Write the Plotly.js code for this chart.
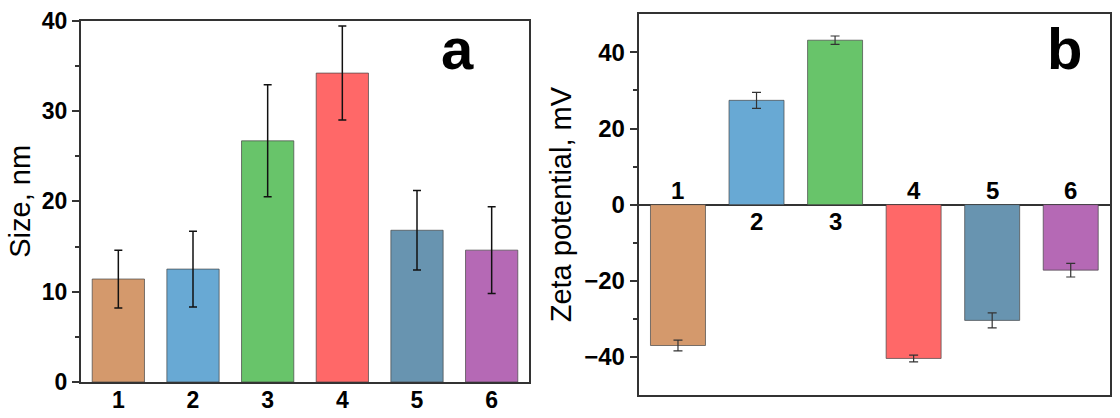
<!DOCTYPE html>
<html>
<head>
<meta charset="utf-8">
<script src="https://cdn.plot.ly/plotly-3.0.1.min.js"></script>
<style>html,body{margin:0;padding:0;background:#fff;}#chart{width:1120px;height:418px;}</style>
</head>
<body>
<div id="chart"></div>
<script>
// ---- data ----
const categories = [1, 2, 3, 4, 5, 6];
const tickLabels = ['1', '2', '3', '4', '5', '6'];
const barColors = ['#D4996C', '#68A9D4', '#68C46A', '#FF6868', '#6894B0', '#B569B5'];
const sizeValues = [11.4, 12.5, 26.7, 34.2, 16.8, 14.6];
const sizeErrors = [3.2, 4.2, 6.2, 5.2, 4.4, 4.8];
const zetaValues = [-37.0, 27.4, 43.2, -40.4, -30.4, -17.2];
const zetaErrors = [1.4, 2.1, 1.1, 0.9, 1.95, 1.8];
const panelLabels = ['a', 'b'];
const sizeTitle = 'Size, nm';
const zetaTitle = 'Zeta potential, mV';

const FONT = 'Arial, "Liberation Sans", sans-serif';
const LINE = '#333';

const traces = [
  {
    type: 'bar', x: categories, y: sizeValues, xaxis: 'x', yaxis: 'y',
    width: 0.7,
    marker: {color: barColors, line: {color: 'rgba(70,70,70,0.7)', width: 1}},
    error_y: {type: 'data', array: sizeErrors, visible: true, color: '#111', thickness: 1.5, width: 4},
    hoverinfo: 'x+y', showlegend: false
  },
  {
    type: 'bar', x: categories, y: zetaValues, xaxis: 'x2', yaxis: 'y2',
    width: 0.7,
    marker: {color: barColors, line: {color: 'rgba(70,70,70,0.7)', width: 1}},
    error_y: {type: 'data', array: zetaErrors, visible: true, color: '#333', thickness: 1.2, width: 4.5},
    hoverinfo: 'x+y', showlegend: false
  }
];

// category labels in panel b, placed next to the zero line
const catAnnotations = categories.map((c, i) => ({
  xref: 'x2', yref: 'y2', x: c, y: 0,
  text: '<b>' + tickLabels[i] + '</b>', showarrow: false,
  yshift: zetaValues[i] < 0 ? 14 : -17,
  font: {family: FONT, size: 24, color: '#000'}
}));

const layout = {
  width: 1120, height: 418,
  margin: {l: 0, r: 0, t: 0, b: 0},
  paper_bgcolor: '#fff', plot_bgcolor: '#fff',
  font: {family: FONT, color: '#000'},
  bargap: 0.3,
  xaxis: {
    domain: [81 / 1120, 529 / 1120], anchor: 'y',
    range: [0.5, 6.5], tickvals: categories, ticktext: tickLabels,
    showline: true, linecolor: LINE, linewidth: 2, mirror: true,
    ticks: '', ticklabelstandoff: -4, showgrid: false, zeroline: false,
    tickfont: {family: FONT, size: 23, color: '#000', weight: 'bold'}
  },
  yaxis: {
    domain: [36 / 418, 397.3 / 418], anchor: 'x',
    range: [0, 40], tickvals: [0, 10, 20, 30, 40],
    showline: true, linecolor: LINE, linewidth: 2, mirror: true,
    ticks: 'outside', ticklen: 7, tickwidth: 2, tickcolor: LINE,
    minor: {tickvals: [5, 15, 25, 35], ticks: 'outside', ticklen: 4, tickwidth: 2, tickcolor: LINE},
    showgrid: false, zeroline: false,
    tickfont: {family: FONT, size: 23, color: '#000', weight: 'bold'},
    title: {text: sizeTitle, font: {family: FONT, size: 29, color: '#000'}, standoff: 3}
  },
  xaxis2: {
    domain: [638.7 / 1120, 1110 / 1120], anchor: 'y2',
    range: [0.5, 6.5],
    showline: true, linecolor: LINE, linewidth: 2, mirror: true,
    ticks: '', showticklabels: false, showgrid: false, zeroline: false
  },
  yaxis2: {
    domain: [23 / 418, 403.7 / 418], anchor: 'x2',
    range: [-50, 50], tickvals: [-40, -20, 0, 20, 40],
    showline: true, linecolor: LINE, linewidth: 2, mirror: true,
    ticks: 'outside', ticklen: 7, tickwidth: 2, tickcolor: LINE,
    minor: {tickvals: [-30, -10, 10, 30], ticks: 'outside', ticklen: 4, tickwidth: 2, tickcolor: LINE},
    showgrid: false, zeroline: true, zerolinecolor: LINE, zerolinewidth: 2,
    tickfont: {family: FONT, size: 24, color: '#000', weight: 'bold'},
    title: {text: zetaTitle, font: {family: FONT, size: 29, color: '#000'}, standoff: 4}
  },
  annotations: [
    {xref: 'paper', yref: 'paper', x: 457 / 1120, y: (418 - 48) / 418, text: '<b>' + panelLabels[0] + '</b>',
     showarrow: false, xanchor: 'center', yanchor: 'middle', font: {family: FONT, size: 58, color: '#000'}},
    {xref: 'paper', yref: 'paper', x: 1064 / 1120, y: (418 - 48) / 418, text: '<b>' + panelLabels[1] + '</b>',
     showarrow: false, xanchor: 'center', yanchor: 'middle', font: {family: FONT, size: 58, color: '#000'}}
  ].concat(catAnnotations)
};

Plotly.newPlot('chart', traces, layout, {staticPlot: true, displayModeBar: false});
</script>
</body>
</html>
